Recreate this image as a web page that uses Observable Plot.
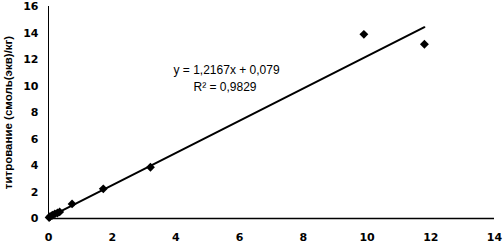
<!DOCTYPE html>
<html><head><meta charset="utf-8">
<script src="https://cdn.jsdelivr.net/npm/d3@7"></script>
<script src="https://cdn.jsdelivr.net/npm/@observablehq/plot@0.6"></script>
<style>
html,body{margin:0;padding:0;background:#fff;}
</style>
</head><body>
<div id="chart"></div>
<script>
const xValues = [0.02, 0.05, 0.12, 0.2, 0.28, 0.35, 0.74, 1.72, 3.2, 9.9, 11.8];
const yValues = [0.08, 0.15, 0.25, 0.35, 0.42, 0.5, 1.1, 2.24, 3.87, 13.9, 13.15];
const slope = 1.2167;
const intercept = 0.079;
const equationText = "y = 1,2167x + 0,079";
const r2Text = "R² = 0,9829";
const xTicks = [0, 2, 4, 6, 8, 10, 12, 14];
const yTicks = [0, 2, 4, 6, 8, 10, 12, 14, 16];
const yLabel = "титрование (смоль(экв)/кг)";

const points = xValues.map((x, i) => ({x, y: yValues[i]}));
const xMin = d3.min(xValues), xMax = d3.max(xValues);
const trend = [xMin, xMax].map(x => ({x, y: slope * x + intercept}));

const chart = Plot.plot({
  width: 503,
  height: 245,
  marginLeft: 48,
  marginRight: 9,
  marginTop: 6,
  marginBottom: 27,
  style: {fontFamily: "DejaVu Sans", fontSize: "11px", fontWeight: "bold", color: "#000", background: "#fff"},
  x: {domain: [0, 14], ticks: xTicks, tickSize: 0, tickPadding: 15, label: null, tickFormat: d => d},
  y: {domain: [0, 16], ticks: yTicks, tickSize: 0, tickPadding: 10, label: null, tickFormat: d => d},
  marks: [
    Plot.ruleY([0], {stroke: "#000", strokeWidth: 1.5}),
    Plot.ruleX([0], {stroke: "#000", strokeWidth: 1}),
    Plot.line(trend, {x: "x", y: "y", stroke: "#000", strokeWidth: 2}),
    Plot.dot(points, {x: "x", y: "y", symbol: "diamond2", r: 4, fill: "#000", stroke: "none"}),
    Plot.text([equationText], {frameAnchor: "top-left", dx: 125, dy: 59, text: d => d, fontFamily: "Liberation Sans", fontSize: 12, fontWeight: "normal", textAnchor: "start"}),
    Plot.text([r2Text], {frameAnchor: "top-left", dx: 145, dy: 76, text: d => d, fontFamily: "Liberation Sans", fontSize: 12, fontWeight: "normal", textAnchor: "start"}),
    Plot.text([yLabel], {frameAnchor: "middle", dx: -263, dy: 0, rotate: -90, textAnchor: "middle", text: d => d, fontFamily: "Liberation Sans", fontSize: 11.5, fontWeight: "bold"})
  ]
});
document.getElementById("chart").appendChild(chart);
</script>
</body></html>
